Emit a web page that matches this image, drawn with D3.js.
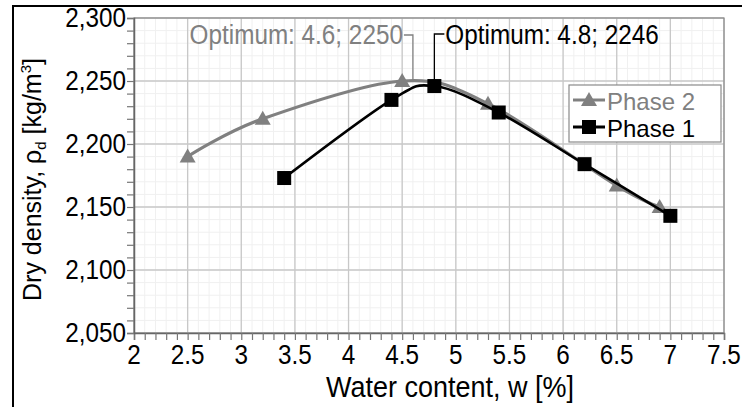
<!DOCTYPE html>
<html>
<head>
<meta charset="utf-8">
<script src="https://cdn.jsdelivr.net/npm/d3@7/dist/d3.min.js"></script>
<style>
  html, body { margin: 0; padding: 0; background: #fff; }
  svg { display: block; font-family: "Liberation Sans", Arial, sans-serif; }
</style>
</head>
<body>
<svg id="chart" width="742" height="407"></svg>
<script>
// Compaction test results: water content (%) vs dry density (kg/m3)
const phase2Water   = [2.5, 3.2, 4.5, 5.3, 6.5, 6.9];
const phase2Density = [2190, 2220, 2250, 2232, 2167, 2150];
const phase1Water   = [3.4, 4.4, 4.8, 5.4, 6.2, 7.0];
const phase1Density = [2173, 2235, 2246, 2225, 2184, 2143];

const xTicks = [2, 2.5, 3, 3.5, 4, 4.5, 5, 5.5, 6, 6.5, 7, 7.5];
const yTicks = [2050, 2100, 2150, 2200, 2250, 2300];

const optimumPhase2 = {w: 4.6, d: 2250, label: "Optimum: 4.6; 2250"};
const optimumPhase1 = {w: 4.8, d: 2246, label: "Optimum: 4.8; 2246"};

const svg = d3.select("#chart");
const plot = {left: 134, right: 724, top: 18, bottom: 333};
const SQ = 0.9; // horizontal squeeze applied to chart text

const x = d3.scaleLinear().domain([2, 7.5]).range([plot.left, plot.right]);
const y = d3.scaleLinear().domain([2050, 2300]).range([plot.bottom, plot.top]);

// places a text node at (px, py) with narrowed glyphs
function label(parent, px, py, str, size, anchor, color, baseline, squeeze) {
  const s = squeeze === undefined ? SQ : squeeze;
  return parent.append("text")
    .attr("transform", `translate(${px},${py}) scale(${s},1)`)
    .attr("text-anchor", anchor)
    .attr("dominant-baseline", baseline || "auto")
    .attr("font-size", size).attr("fill", color)
    .text(str);
}

// outer frame (left and top edges)
svg.append("path")
  .attr("d", "M13,407 L13,6 L742,6")
  .attr("fill", "none").attr("stroke", "#000").attr("stroke-width", 2);

// minor grid
const g = svg.append("g");
g.append("g").selectAll("line").data(d3.range(2, 7.5001, 0.1))
  .join("line")
  .attr("x1", d => x(d)).attr("x2", d => x(d))
  .attr("y1", plot.top).attr("y2", plot.bottom)
  .attr("stroke", "#f0f0f0").attr("stroke-width", 1);
g.append("g").selectAll("line").data(d3.range(2050, 2300.1, 10))
  .join("line")
  .attr("x1", plot.left).attr("x2", plot.right)
  .attr("y1", d => y(d)).attr("y2", d => y(d))
  .attr("stroke", "#f0f0f0").attr("stroke-width", 1);

// major grid
g.append("g").selectAll("line").data(xTicks)
  .join("line")
  .attr("x1", d => x(d)).attr("x2", d => x(d))
  .attr("y1", plot.top).attr("y2", plot.bottom)
  .attr("stroke", "#c8c8c8").attr("stroke-width", 1.3);
g.append("g").selectAll("line").data(yTicks)
  .join("line")
  .attr("x1", plot.left).attr("x2", plot.right)
  .attr("y1", d => y(d)).attr("y2", d => y(d))
  .attr("stroke", "#c8c8c8").attr("stroke-width", 1.3);

// plot border
svg.append("rect")
  .attr("x", plot.left).attr("y", plot.top)
  .attr("width", plot.right - plot.left).attr("height", plot.bottom - plot.top)
  .attr("fill", "none").attr("stroke", "#8a8a8a").attr("stroke-width", 1.2);

// axes with minor ticks
const xAxis = d3.axisBottom(x)
  .tickValues(d3.range(2, 7.5001, 0.1)).tickSize(7).tickFormat("");
svg.append("g").attr("transform", `translate(0,${plot.bottom})`).call(xAxis)
  .call(a => a.select(".domain").attr("stroke", "#666").attr("stroke-width", 1.5))
  .call(a => a.selectAll(".tick line").attr("stroke", "#777").attr("stroke-width", 1.2));
const yAxis = d3.axisLeft(y)
  .tickValues(d3.range(2050, 2300.1, 10)).tickSize(7).tickFormat("");
svg.append("g").attr("transform", `translate(${plot.left},0)`).call(yAxis)
  .call(a => a.select(".domain").attr("stroke", "#666").attr("stroke-width", 1.5))
  .call(a => a.selectAll(".tick line").attr("stroke", "#777").attr("stroke-width", 1.2));

// tick labels
const fmt = d3.format(",");
const yl = svg.append("g");
yTicks.forEach(d => label(yl, plot.left - 8, y(d), fmt(d), 27, "end", "#000", "central"));
const xl = svg.append("g");
xTicks.forEach(d => label(xl, x(d), 355, String(d), 27, "middle", "#000", "central"));

// axis titles
label(svg, 450, 397, "Water content, w [%]", 30, "middle", "#000");

const yt = svg.append("text")
  .attr("transform", `translate(41,${(plot.top + plot.bottom) / 2 + 4}) rotate(-90)`)
  .attr("text-anchor", "middle")
  .attr("font-size", 25).attr("fill", "#000");
yt.append("tspan").text("Dry density, ρ");
yt.append("tspan").attr("font-size", 15).attr("dy", 5).text("d");
yt.append("tspan").attr("dy", -5).text(" [kg/m");
yt.append("tspan").attr("font-size", 15).attr("dy", -10).text("3");
yt.append("tspan").attr("dy", 10).text("]");

// series
const line = d3.line().x(d => x(d[0])).y(d => y(d[1])).curve(d3.curveCardinal.tension(0));
const p2 = d3.zip(phase2Water, phase2Density);
const p1 = d3.zip(phase1Water, phase1Density);
const grey = "#808080";

svg.append("path").datum(p2).attr("d", line)
  .attr("fill", "none").attr("stroke", grey).attr("stroke-width", 3.2);
svg.append("g").selectAll("path").data(p2)
  .join("path")
  .attr("transform", d => `translate(${x(d[0])},${y(d[1])})`)
  .attr("d", "M0,-8 L8,6 L-8,6 Z").attr("fill", grey);

svg.append("path").datum(p1).attr("d", line)
  .attr("fill", "none").attr("stroke", "#000").attr("stroke-width", 2.6);
svg.append("g").selectAll("rect").data(p1)
  .join("rect")
  .attr("x", d => x(d[0]) - 7).attr("y", d => y(d[1]) - 7)
  .attr("width", 14).attr("height", 14).attr("fill", "#000");

// optimum call-outs
const ox2 = x(optimumPhase2.w), oy2 = y(optimumPhase2.d);
svg.append("path")
  .attr("d", `M${ox2 - 9},35 L${ox2},35 L${ox2},${oy2}`)
  .attr("fill", "none").attr("stroke", grey).attr("stroke-width", 1.3);
label(svg, ox2 - 10, 44, optimumPhase2.label, 27, "end", grey);

const ox1 = x(optimumPhase1.w), oy1 = y(optimumPhase1.d);
svg.append("path")
  .attr("d", `M${ox1 + 10},34 L${ox1},34 L${ox1},${oy1}`)
  .attr("fill", "none").attr("stroke", "#000").attr("stroke-width", 1.3);
label(svg, ox1 + 11, 44, optimumPhase1.label, 27, "start", "#000");

// legend
const lg = svg.append("g").attr("transform", "translate(569,85)");
lg.append("rect").attr("width", 152).attr("height", 57)
  .attr("fill", "#fff").attr("stroke", "#8a8a8a").attr("stroke-width", 1.2);
const legendItems = [
  {name: "Phase 2", color: grey, shape: "tri", y: 15},
  {name: "Phase 1", color: "#000", shape: "sq", y: 42}
];
legendItems.forEach(it => {
  lg.append("line").attr("x1", 4).attr("x2", 36).attr("y1", it.y).attr("y2", it.y)
    .attr("stroke", it.color).attr("stroke-width", 3);
  if (it.shape === "tri") {
    lg.append("path").attr("transform", `translate(20,${it.y})`)
      .attr("d", "M0,-8 L8,6 L-8,6 Z").attr("fill", it.color);
  } else {
    lg.append("rect").attr("x", 13).attr("y", it.y - 7)
      .attr("width", 14).attr("height", 14).attr("fill", it.color);
  }
  label(lg, 38, it.y + 1, it.name, 24, "start", it.color, "central", 1);
});
</script>
</body>
</html>
